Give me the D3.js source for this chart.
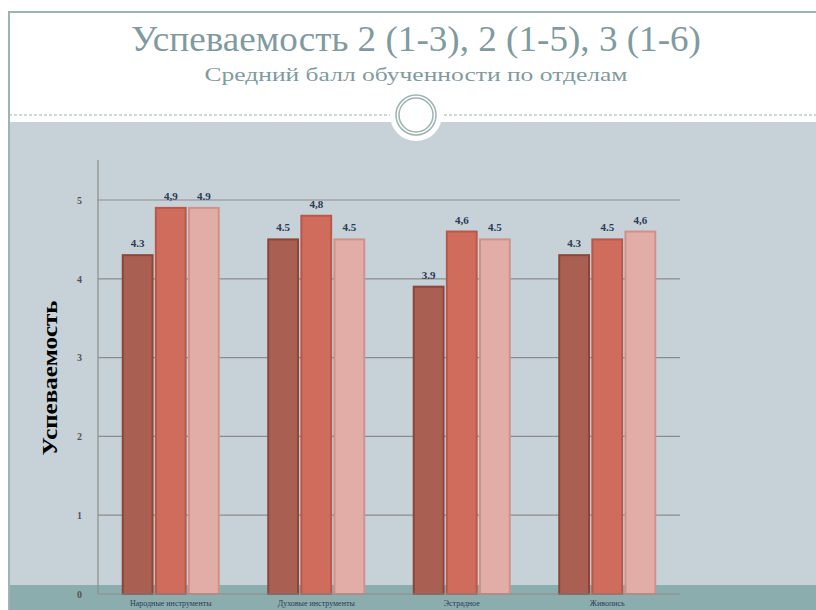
<!DOCTYPE html>
<html><head><meta charset="utf-8">
<script src="https://cdn.jsdelivr.net/npm/d3@7"></script>
<style>body{margin:0;background:#fff}svg{display:block}</style>
</head><body>
<svg id="c" width="816" height="610"></svg>
<script>
const categories = ["Народные инструменты", "Духовые инструменты", "Эстрадное", "Живопись"];
const series1 = [4.3, 4.5, 3.9, 4.3];
const series2 = [4.9, 4.8, 4.6, 4.5];
const series3 = [4.9, 4.5, 4.5, 4.6];
const labels1 = ["4.3", "4.5", "3.9", "4.3"];
const labels2 = ["4,9", "4,8", "4,6", "4.5"];
const labels3 = ["4.9", "4.5", "4.5", "4,6"];
const yTicks = [0, 1, 2, 3, 4, 5];
const titleText = "Успеваемость 2 (1-3), 2 (1-5), 3 (1-6)";
const subtitleText = "Средний балл обученности по отделам";
const yTitle = "Успеваемость";

const svg = d3.select("#c");
const W = 816, H = 610;
const serif = "'Liberation Serif','DejaVu Serif',serif";

svg.append("rect").attr("x",0).attr("y",0).attr("width",W).attr("height",H).attr("fill","#fff");
svg.append("rect").attr("x",9).attr("y",122).attr("width",W-9).attr("height",H-122).attr("fill","#c6d2d8");
svg.append("rect").attr("x",9).attr("y",585).attr("width",W-9).attr("height",H-585).attr("fill","#8badad");
svg.append("path").attr("d",`M9,${H} V12 H${W}`).attr("fill","none").attr("stroke","#9db4b2").attr("stroke-width",2);
svg.append("line").attr("x1",9).attr("x2",W).attr("y1",115).attr("y2",115)
  .attr("stroke","#9db0b2").attr("stroke-width",1).attr("stroke-dasharray","3,2");
svg.append("circle").attr("cx",416).attr("cy",115).attr("r",26).attr("fill","#fff");
svg.append("circle").attr("cx",416).attr("cy",115).attr("r",20).attr("fill","none").attr("stroke","#9db4b2").attr("stroke-width",1.5);
svg.append("circle").attr("cx",416).attr("cy",115).attr("r",17).attr("fill","none").attr("stroke","#9db4b2").attr("stroke-width",1.5);

svg.append("text").attr("x",416).attr("y",51).attr("text-anchor","middle")
  .attr("font-family",serif).attr("font-size",36).attr("fill","#7f9b9f")
  .attr("textLength",570).attr("lengthAdjust","spacingAndGlyphs").text(titleText);
svg.append("text").attr("x",416).attr("y",81).attr("text-anchor","middle")
  .attr("font-family",serif).attr("font-size",19).attr("fill","#7f9b9f")
  .attr("textLength",423).attr("lengthAdjust","spacingAndGlyphs").text(subtitleText);

const x0 = 98, x1 = 680, yTop = 160;
const y = d3.scaleLinear().domain([0,5]).range([594,200]);
const x = d3.scaleBand().domain(categories).range([x0,x1]).paddingInner(0.34).paddingOuter(0.17);
const keys = ["s1","s2","s3"];
const xs = d3.scaleBand().domain(keys).range([0,x.bandwidth()]).paddingInner(0.1);
const fills = {s1:"#a95f52", s2:"#d06c5c", s3:"#e1ada6"};
const strokes = {s1:"#8b4639", s2:"#b9574a", s3:"#cf9189"};
const vals = {s1:series1, s2:series2, s3:series3};
const labs = {s1:labels1, s2:labels2, s3:labels3};

const g = svg.append("g");
g.selectAll("line.grid").data(yTicks.filter(d=>d>0)).join("line")
  .attr("x1",x0).attr("x2",x1).attr("y1",d=>y(d)).attr("y2",d=>y(d))
  .attr("stroke","#8c8c8c").attr("stroke-width",1.2);
g.append("line").attr("x1",x0).attr("x2",x0).attr("y1",yTop).attr("y2",y(0)).attr("stroke","#8c8c8c").attr("stroke-width",1.2);
const yAxis = d3.axisLeft(y).tickValues(yTicks).tickFormat(d3.format("d")).tickSize(0).tickPadding(16);
const ya = svg.append("g").attr("transform",`translate(${x0},0)`).call(yAxis);
ya.select(".domain").remove();
ya.selectAll("text").attr("font-family",serif).attr("font-size",10).attr("font-weight","bold").attr("fill","#555");

keys.forEach(k=>{
  const gg = svg.append("g");
  gg.selectAll("rect").data(categories).join("rect")
    .attr("x",(c)=>x(c)+xs(k)).attr("width",xs.bandwidth())
    .attr("y",(c,i)=>y(vals[k][i])).attr("height",(c,i)=>y(0)-y(vals[k][i]))
    .attr("fill",fills[k]).attr("stroke",strokes[k]).attr("stroke-width",2);
  gg.selectAll("text").data(categories).join("text")
    .attr("x",(c)=>x(c)+xs(k)+xs.bandwidth()/2)
    .attr("y",(c,i)=>y(vals[k][i])-8)
    .attr("text-anchor","middle").attr("font-family",serif).attr("font-size",11).attr("font-weight","bold")
    .attr("fill","#2d3b55").text((c,i)=>labs[k][i]);
});

svg.append("line").attr("x1",x0).attr("x2",x1).attr("y1",y(0)).attr("y2",y(0)).attr("stroke","#8c8c8c").attr("stroke-width",1.2);
const xAxis = d3.axisBottom(x).tickSize(0).tickPadding(6);
const xa = svg.append("g").attr("transform",`translate(0,${y(0)})`).call(xAxis);
xa.select(".domain").remove();
xa.selectAll("text").attr("font-family",serif).attr("font-size",8).attr("fill","#2d3b55");

svg.append("text").attr("transform","translate(57,378) rotate(-90)").attr("text-anchor","middle")
  .attr("font-family",serif).attr("font-size",21).attr("font-weight","bold").attr("fill","#000")
  .attr("textLength",155).attr("lengthAdjust","spacingAndGlyphs").text(yTitle);
</script>
</body></html>
